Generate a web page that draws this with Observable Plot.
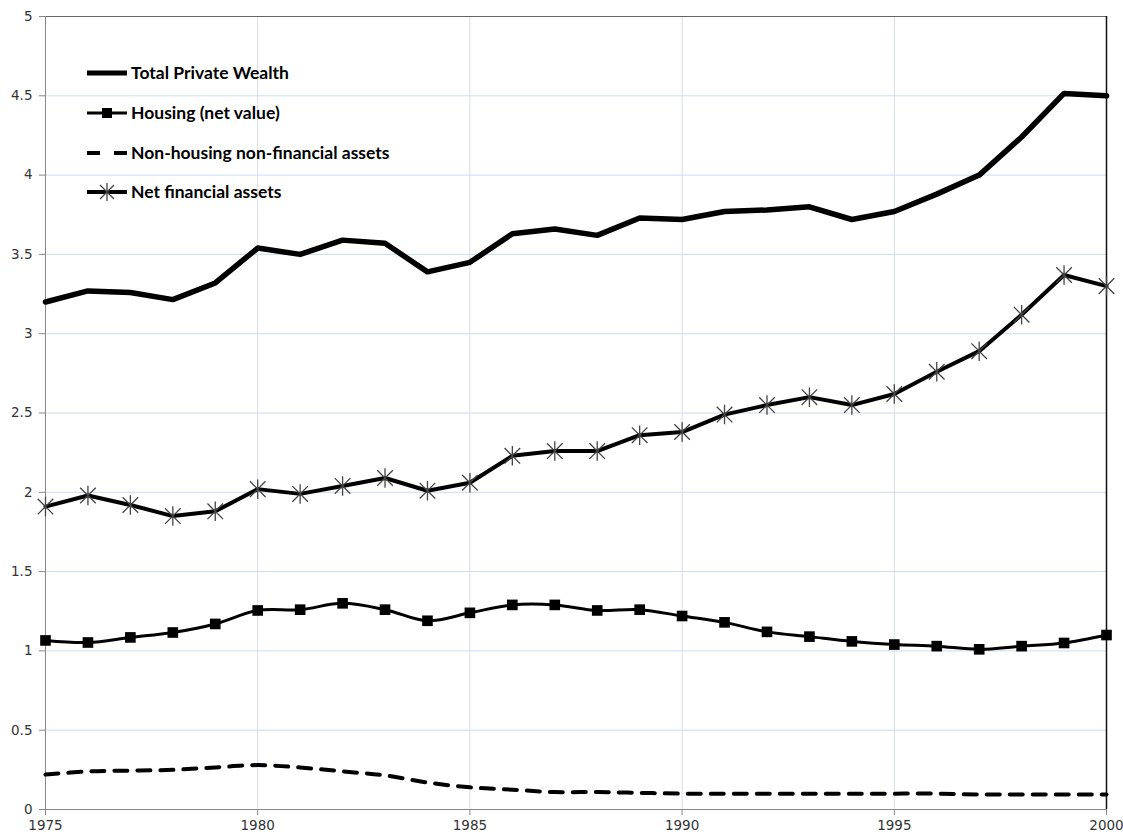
<!DOCTYPE html>
<html>
<head>
<meta charset="utf-8">
<script src="https://cdn.jsdelivr.net/npm/d3@7"></script>
<script src="https://cdn.jsdelivr.net/npm/@observablehq/plot@0.6"></script>
<style>
  html, body { margin: 0; padding: 0; background: #fff; }
  #chart svg { display: block; }
</style>
</head>
<body>
<div id="chart"></div>
<script>
const years = d3.range(1975, 2001);
const seriesNames = ["Total Private Wealth", "Housing (net value)", "Non-housing non-financial assets", "Net financial assets"];
const totalWealth = [3.20, 3.27, 3.26, 3.215, 3.32, 3.54, 3.50, 3.59, 3.57, 3.39, 3.45, 3.63, 3.66, 3.62, 3.73, 3.72, 3.77, 3.78, 3.80, 3.72, 3.77, 3.88, 4.00, 4.24, 4.515, 4.50];
const housing = [1.066, 1.053, 1.085, 1.116, 1.17, 1.255, 1.26, 1.30, 1.26, 1.19, 1.24, 1.29, 1.29, 1.255, 1.26, 1.22, 1.18, 1.12, 1.09, 1.06, 1.04, 1.03, 1.01, 1.03, 1.05, 1.10];
const nonHousing = [0.22, 0.24, 0.245, 0.25, 0.265, 0.28, 0.265, 0.24, 0.215, 0.17, 0.14, 0.125, 0.11, 0.11, 0.105, 0.10, 0.10, 0.10, 0.10, 0.10, 0.10, 0.10, 0.095, 0.095, 0.095, 0.095];
const netFinancial = [1.91, 1.98, 1.92, 1.85, 1.88, 2.02, 1.99, 2.04, 2.09, 2.01, 2.06, 2.23, 2.26, 2.26, 2.36, 2.38, 2.49, 2.55, 2.60, 2.55, 2.62, 2.76, 2.89, 3.12, 3.37, 3.30];
const yTicks = [0, 0.5, 1, 1.5, 2, 2.5, 3, 3.5, 4, 4.5, 5];
const xTicks = [1975, 1980, 1985, 1990, 1995, 2000];

const toRows = (vals) => years.map((year, i) => ({year, value: vals[i]}));
const tw = toRows(totalWealth), ho = toRows(housing), nh = toRows(nonHousing), nf = toRows(netFinancial);

// Excel-style star: vertical line plus an X
const star = {
  draw(context, size) {
    const r = Math.sqrt(size) / 2;
    const d = r * 0.8;
    context.moveTo(0, -r); context.lineTo(0, r);
    context.moveTo(-d, -d); context.lineTo(d, d);
    context.moveTo(-d, d); context.lineTo(d, -d);
  }
};

const chart = Plot.plot({
  width: 1123,
  height: 838,
  marginLeft: 45,
  marginRight: 17,
  marginTop: 16,
  marginBottom: 29,
  style: {fontFamily: "DejaVu Sans, sans-serif", fontSize: "13px", color: "#333", background: "#fff"},
  x: {domain: [1975, 2000], ticks: xTicks, tickFormat: d => String(d), tickSize: 6, tickPadding: 5, label: null},
  y: {domain: [0, 5], ticks: yTicks, tickFormat: d => String(d), tickSize: 6, tickPadding: 7, label: null},
  marks: [
    Plot.gridY(yTicks, {stroke: "#c9dcf0", strokeOpacity: 1, strokeWidth: 1}),
    Plot.gridX(xTicks.slice(1, -1), {stroke: "#d8dce6", strokeOpacity: 1, strokeWidth: 1}),
    Plot.ruleY([5], {stroke: "#666", strokeWidth: 1.2}),
    Plot.ruleX([2000], {stroke: "#111", strokeWidth: 1.5}),
    Plot.ruleX([1975], {stroke: "#888", strokeWidth: 1}),
    Plot.ruleY([0], {stroke: "#888", strokeWidth: 1}),
    Plot.axisX({ticks: xTicks, tickSize: 6, tickPadding: 5, stroke: "#888", fill: "#333", fontSize: 13.5, tickFormat: d => String(d), label: null}),
    Plot.axisY({ticks: yTicks, tickSize: 6, tickPadding: 7, stroke: "#888", fill: "#333", fontSize: 13.5, tickFormat: d => String(d), label: null}),
    Plot.line(nh, {x: "year", y: "value", stroke: "#000", strokeWidth: 4, strokeDasharray: "13,10", curve: "catmull-rom"}),
    Plot.line(ho, {x: "year", y: "value", stroke: "#000", strokeWidth: 3, curve: "catmull-rom"}),
    Plot.dot(ho, {x: "year", y: "value", symbol: "square", r: 6, fill: "#000", stroke: "none"}),
    Plot.line(nf, {x: "year", y: "value", stroke: "#000", strokeWidth: 4}),
    Plot.dot(nf, {x: "year", y: "value", symbol: star, r: 11, fill: "none", stroke: "#444", strokeWidth: 1.3}),
    Plot.line(tw, {x: "year", y: "value", stroke: "#000", strokeWidth: 5.5})
  ]
});
document.getElementById("chart").appendChild(chart);

// Legend inside the plot area, top-left
const svg = d3.select(chart);
const lg = svg.append("g")
  .attr("font-family", "Lato, 'Open Sans', sans-serif")
  .attr("font-size", 17.5)
  .attr("font-weight", "bold")
  .attr("text-anchor", "start");
const rowsY = [73, 113, 153, 192];
const x0 = 87, x1 = 127;
seriesNames.forEach((name, i) => {
  const y = rowsY[i];
  const line = lg.append("line").attr("x1", x0).attr("x2", x1).attr("y1", y).attr("y2", y).attr("stroke", "#000");
  if (i === 0) line.attr("stroke-width", 5);
  if (i === 1) {
    line.attr("stroke-width", 3);
    lg.append("rect").attr("x", 102).attr("y", y - 5).attr("width", 10).attr("height", 10).attr("fill", "#000");
  }
  if (i === 2) line.attr("stroke-width", 4).attr("stroke-dasharray", "13,14");
  if (i === 3) {
    line.attr("stroke-width", 4);
    const sx = 107, r = 9, d = 7;
    lg.append("path").attr("d", `M${sx},${y - r}L${sx},${y + r}M${sx - d},${y - d}L${sx + d},${y + d}M${sx - d},${y + d}L${sx + d},${y - d}`)
      .attr("stroke", "#444").attr("stroke-width", 1.3).attr("fill", "none");
  }
  lg.append("text").attr("x", 131).attr("y", y).attr("dy", "0.35em").attr("fill", "#000").attr("text-anchor", "start").text(name);
});
</script>
</body>
</html>
